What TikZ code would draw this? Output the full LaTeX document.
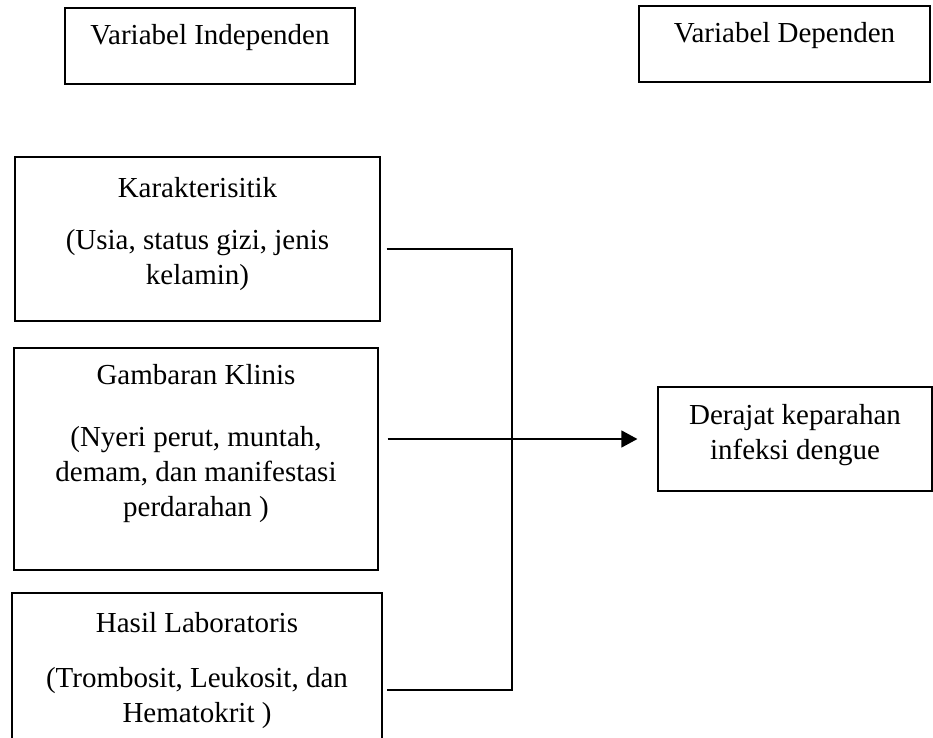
\documentclass[tikz,border=0pt]{standalone}
\usepackage{fontspec}
\setmainfont{Liberation Serif}
\usetikzlibrary{calc}
\usetikzlibrary{positioning}
\usetikzlibrary{arrows.meta}

\begin{document}
\begin{tikzpicture}[x=0.75pt, y=-0.75pt]

    \tikzset{varbox/.style={draw, line width=0.8pt, inner sep=0pt},
        vartext/.style={inner sep=0pt, align=center, font=\fontsize{21.75pt}{26.25pt}\selectfont},
        link/.style={line width=0.8pt},
        flow/.style={line width=1.7pt, -{Triangle[length=12pt, width=12.5pt]}}}
    \useasboundingbox (0, 0) rectangle (933, 738);

    \node [varbox, minimum width=217.5pt, minimum height=57pt] (VI) at (210, 46) {};
        \node [vartext, below=12.75pt of VI.north] (VItext) {Variabel Independen};
    \node [varbox, minimum width=218.25pt, minimum height=57pt] (VD) at (784.5, 44) {};
        \node [vartext, below=12.75pt of VD.north] (VDtext) {Variabel Dependen};

    \node [varbox, minimum width=273.75pt, minimum height=123pt] (kar) at (197.5, 239) {};
        \node [vartext, below=15.5pt of kar.north] (kartext) {Karakterisitik\\[13pt](Usia, status gizi, jenis\\kelamin)};
    \node [varbox, minimum width=273pt, minimum height=166.5pt] (gam) at (196, 459) {};
        \node [vartext, below=12.75pt of gam.north] (gamtext) {Gambaran Klinis\\[20pt](Nyeri perut, muntah,\\demam, dan manifestasi\\perdarahan )};
    \node [varbox, minimum width=277.5pt, minimum height=117.75pt] (has) at (197, 671.5) {};
        \node [vartext, below=15pt of has.north] (hastext) {Hasil Laboratoris\\[15pt](Trombosit, Leukosit, dan\\Hematokrit )};

    \node [varbox, minimum width=205.5pt, minimum height=78pt] (der) at (795, 439) {};
        \node [vartext, below=13.5pt of der.north] (dertext) {Derajat keparahan\\infeksi dengue};

    \coordinate (jtop) at (512, 249);
    \coordinate (jbot) at (512, 690);
    \draw [link] ([xshift=4.5pt]kar.east |- jtop) -- (jtop) -- (jbot) -- ([xshift=3pt]has.east |- jbot);
    \draw [flow] ([xshift=6.75pt]gam.east |- der.west) -- ([xshift=-15pt]der.west);

\end{tikzpicture}
\end{document}
